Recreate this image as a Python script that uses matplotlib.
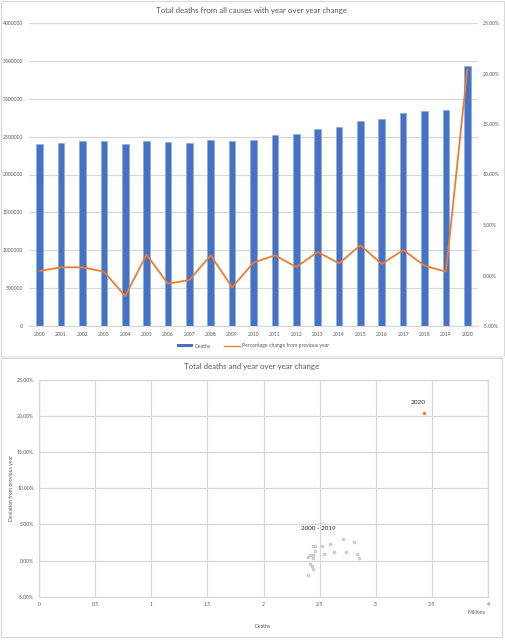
import matplotlib
matplotlib.use("Agg")
import matplotlib.pyplot as plt
from matplotlib.patches import Rectangle
from matplotlib.lines import Line2D
from matplotlib.ticker import FuncFormatter, MultipleLocator
import numpy as np

years = ["2000", "2001", "2002", "2003", "2004", "2005", "2006", "2007", "2008", "2009",
         "2010", "2011", "2012", "2013", "2014", "2015", "2016", "2017", "2018", "2019", "2020"]
deaths = [2398000, 2411000, 2438000, 2442000, 2398000, 2442000, 2429000, 2411000, 2460000, 2438000,
          2460000, 2521000, 2535000, 2596000, 2627000, 2711000, 2737000, 2807000, 2834000, 2851000, 3432000]
pct_change = [0.45, 0.81, 0.81, 0.38, -2.03, 2.06, -0.81, -0.45, 2.00, -1.17,
              1.27, 2.00, 0.84, 2.33, 1.20, 2.99, 1.14, 2.52, 0.97, 0.38, 20.41]

title_top = "Total deaths from all causes with year over year change"
title_bottom = "Total deaths and year over year change"
legend_labels = ["Deaths", "Percentage change from previous year"]

W, H = 505, 640
plt.rcParams['font.family'] = ['Lato', 'DejaVu Sans']
fig = plt.figure(figsize=(W / 100, H / 100), dpi=100)
fig.patch.set_facecolor("white")

def fx(x):
    return x / W

def fy(y):
    return 1 - y / H

GRID = "#D9D9D9"
TXT = "#595959"
BLUE = "#4472C4"
ORANGE = "#ED7D31"
TICK_FS = 3.7

# chart borders / separator
fig.add_artist(Rectangle((fx(0.5), fy(355.5)), fx(503.5), (355.5 - 0.5) / H, transform=fig.transFigure,
                         facecolor="white", edgecolor=GRID, lw=0.8, zorder=0))
fig.add_artist(Rectangle((0, fy(357.5)), 1, 2 / H, transform=fig.transFigure,
                         facecolor="#EEEEEE", edgecolor="none", zorder=0))
fig.add_artist(Rectangle((fx(0.5), fy(637)), fx(501.5), (637 - 358) / H, transform=fig.transFigure,
                         facecolor="white", edgecolor=GRID, lw=0.8, zorder=0))

# ---------------- top chart ----------------
ax1 = fig.add_axes([fx(29), fy(326), fx(478 - 29), (326 - 23) / H])
ax1.set_facecolor("none")
x = np.arange(len(years))
ax1.bar(x, deaths, width=0.31, color=BLUE, edgecolor="#8FAADC", linewidth=0.5, zorder=2)
ax1.set_xlim(-0.5, len(years) - 0.5)
ax1.set_ylim(0, 4000000)
ax1.yaxis.set_major_locator(MultipleLocator(500000))
ax1.yaxis.set_major_formatter(FuncFormatter(lambda v, p: f"{int(v)}"))
ax1.set_xticks(x)
ax1.set_xticklabels(years)
ax1.grid(axis="y", color=GRID, lw=0.9, zorder=0)
ax1.set_axisbelow(True)
for s in ["top", "left", "right"]:
    ax1.spines[s].set_visible(False)
ax1.spines["bottom"].set_color(GRID)
ax1.spines["bottom"].set_linewidth(0.9)
ax1.tick_params(axis="both", length=0, labelsize=TICK_FS, labelcolor=TXT)
ax1.tick_params(axis="y", pad=4.5)
ax1.tick_params(axis="x", pad=4)

ax1r = ax1.twinx()
ax1r.plot(x, pct_change, color=ORANGE, lw=1.3, zorder=3)
ax1r.set_ylim(-5, 25)
ax1r.yaxis.set_major_locator(MultipleLocator(5))
ax1r.yaxis.set_major_formatter(FuncFormatter(lambda v, p: f"{v:.2f}%"))
for s in ["top", "left", "right", "bottom"]:
    ax1r.spines[s].set_visible(False)
ax1r.tick_params(axis="y", length=0, labelsize=TICK_FS, labelcolor=TXT, pad=3.5)

fig.text(fx(252), fy(10), title_top, ha="center", va="center", fontsize=5.65, color=TXT)

handles = [Rectangle((0, 0), 1, 1, facecolor=BLUE, edgecolor="none"),
           Line2D([0], [0], color=ORANGE, lw=1.0)]
fig.legend(handles, legend_labels, loc="center", bbox_to_anchor=(fx(253), fy(346)), ncol=2,
           frameon=False, fontsize=TICK_FS, labelcolor=TXT, handlelength=3.2, handleheight=0.5,
           columnspacing=2.5, handletextpad=0.3)

# ---------------- bottom chart ----------------
ax2 = fig.add_axes([fx(39), fy(596.7), fx(488 - 39), (596.7 - 379.7) / H])
dm = np.array(deaths) / 1e6
pc = np.array(pct_change)
ax2.scatter(dm[:-1], pc[:-1], s=4.5, facecolor="#D4D4D4", edgecolor="#C0C0C0", linewidths=0.4, zorder=3)
ax2.scatter(dm[-1:], pc[-1:], s=4.5, facecolor=ORANGE, edgecolor=ORANGE, linewidths=0.4, zorder=3)
ax2.set_xlim(0, 4)
ax2.set_ylim(-5, 25)
ax2.xaxis.set_major_locator(MultipleLocator(0.5))
ax2.yaxis.set_major_locator(MultipleLocator(5))
ax2.xaxis.set_major_formatter(FuncFormatter(lambda v, p: f"{v:g}"))
ax2.yaxis.set_major_formatter(FuncFormatter(lambda v, p: f"{v:.2f}%"))
ax2.grid(True, color=GRID, lw=0.9, zorder=0)
ax2.set_axisbelow(True)
for s in ax2.spines.values():
    s.set_color(GRID)
    s.set_linewidth(0.9)
ax2.tick_params(axis="both", length=0, labelsize=TICK_FS, labelcolor=TXT)
ax2.tick_params(axis="y", pad=3.5)
ax2.tick_params(axis="x", pad=3.5)

ax2.text(2.485, 4.36, "2000 - 2019", ha="center", va="center", fontsize=4.5, color="#262626")
ax2.text(3.379, 21.9, "2020", ha="center", va="center", fontsize=4.6, color="#262626")

fig.text(fx(252), fy(366), title_bottom, ha="center", va="center", fontsize=5.65, color=TXT)
fig.text(fx(476), fy(613), "Millions", ha="center", va="center", fontsize=TICK_FS, color=TXT)
fig.text(fx(263), fy(627), "Deaths", ha="center", va="center", fontsize=TICK_FS, color=TXT)
fig.text(fx(12), fy(488), "Deviation from previous year", ha="center", va="center", rotation=90,
         fontsize=TICK_FS, color=TXT)

fig.savefig("out.png", dpi=100)
